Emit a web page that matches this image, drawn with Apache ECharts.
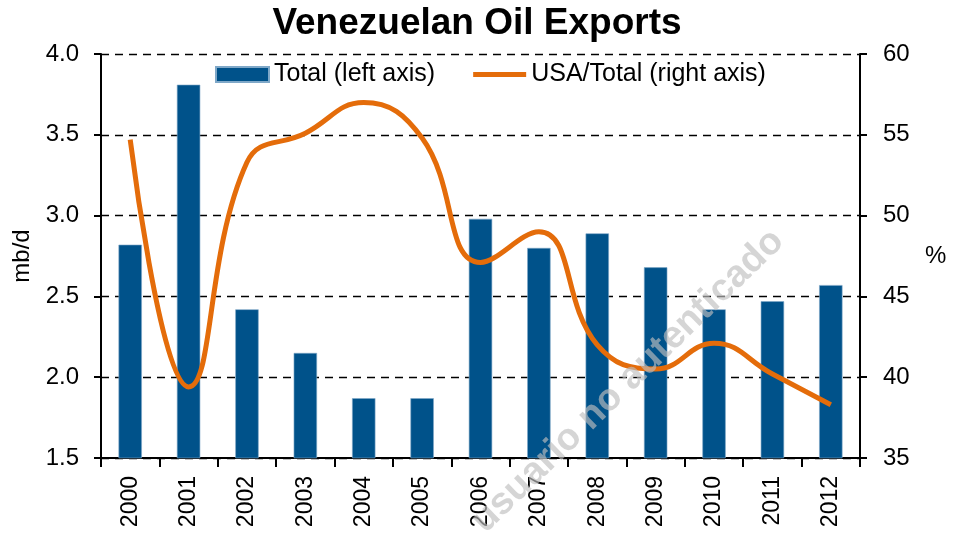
<!DOCTYPE html>
<html>
<head>
<meta charset="utf-8">
<script src="https://cdn.jsdelivr.net/npm/echarts@6/dist/echarts.min.js"></script>
<style>
  html, body { margin: 0; padding: 0; background: #fff; }
  #chart { width: 954px; height: 533px; }
</style>
</head>
<body>
<div id="chart"></div>
<script>
const years = ['2000','2001','2002','2003','2004','2005','2006','2007','2008','2009','2010','2011','2012'];
const totalExports = [2.82, 3.81, 2.42, 2.15, 1.87, 1.87, 2.98, 2.80, 2.89, 2.68, 2.42, 2.47, 2.57];
const usaShare = [54.7, 39.4, 53.3, 55.1, 57.0, 54.8, 47.1, 49.0, 42.0, 40.5, 42.1, 40.2, 38.3];
const leftTicks = { min: 1.5, max: 4.0, step: 0.5 };
const rightTicks = { min: 35, max: 60, step: 5 };

const font = 'Liberation Sans, Arial, sans-serif';
const chart = echarts.init(document.getElementById('chart'));

chart.setOption({
  animation: false,
  backgroundColor: '#fff',
  textStyle: { fontFamily: font, color: '#000' },
  title: {
    text: 'Venezuelan Oil Exports',
    left: 'center',
    top: 0,
    textStyle: { fontFamily: font, fontSize: 37, fontWeight: 'bold', color: '#000' }
  },
  legend: {
    top: 57,
    left: 210,
    itemGap: 38,
    itemWidth: 53,
    itemHeight: 15,
    textStyle: { fontFamily: font, fontSize: 25, color: '#000' },
    data: [
      { name: 'Total (left axis)', icon: 'rect' },
      { name: 'USA/Total (right axis)', icon: 'path://M0,0 L53,0 L53,5 L0,5 Z' }
    ]
  },
  grid: { left: 101, right: 94, top: 54, bottom: 75, containLabel: false, outerBoundsMode: 'none' },
  xAxis: {
    type: 'category',
    data: years,
    boundaryGap: true,
    axisLine: { lineStyle: { color: '#000', width: 2 } },
    axisTick: { show: true, length: 9, lineStyle: { color: '#000', width: 2 } },
    axisLabel: { rotate: 90, fontSize: 23, color: '#000', margin: 18, fontFamily: font }
  },
  yAxis: [
    {
      type: 'value',
      name: 'mb/d',
      nameLocation: 'middle',
      nameGap: 65,
      nameRotate: 90,
      nameTextStyle: { fontSize: 24, color: '#000', fontFamily: font },
      min: leftTicks.min,
      max: leftTicks.max,
      interval: leftTicks.step,
      axisLine: { show: true, lineStyle: { color: '#000', width: 2 } },
      axisTick: { show: true, inside: false, length: 7, lineStyle: { color: '#000', width: 2 } },
      axisLabel: { fontSize: 24, color: '#000', margin: 22, fontFamily: font,
        formatter: v => v.toFixed(1) },
      splitLine: { show: true, lineStyle: { color: '#000', type: [8, 6], width: 1.3 } }
    },
    {
      type: 'value',
      name: '%',
      nameLocation: 'middle',
      nameGap: 65,
      nameRotate: 0,
      nameTextStyle: { fontSize: 24, color: '#000', fontFamily: font },
      min: rightTicks.min,
      max: rightTicks.max,
      interval: rightTicks.step,
      axisLine: { show: true, lineStyle: { color: '#000', width: 2 } },
      axisTick: { show: true, inside: false, length: 7, lineStyle: { color: '#000', width: 2 } },
      axisLabel: { fontSize: 24, color: '#000', margin: 23, fontFamily: font },
      splitLine: { show: false }
    }
  ],
  series: [
    {
      name: 'Total (left axis)',
      type: 'bar',
      yAxisIndex: 0,
      data: totalExports,
      barWidth: '40%',
      itemStyle: { color: '#00528A', borderColor: '#7fa8c8', borderWidth: 0.6 }
    },
    {
      name: 'USA/Total (right axis)',
      type: 'line',
      yAxisIndex: 1,
      data: usaShare,
      smooth: 0.45,
      showSymbol: false,
      symbol: 'none',
      lineStyle: { color: '#E46C0A', width: 5 },
      itemStyle: { color: '#E46C0A' },
      z: 5
    }
  ],
  graphic: [
    {
      type: 'text',
      x: 628,
      y: 381,
      rotation: Math.PI * 0.245,
      style: {
        text: 'usuario no autenticado',
        x: 0,
        y: 0,
        align: 'center',
        verticalAlign: 'middle',
        font: 'bold 38px ' + font,
        fill: 'rgba(190,190,190,0.65)'
      },
      z: 100
    }
  ]
});
</script>
</body>
</html>
